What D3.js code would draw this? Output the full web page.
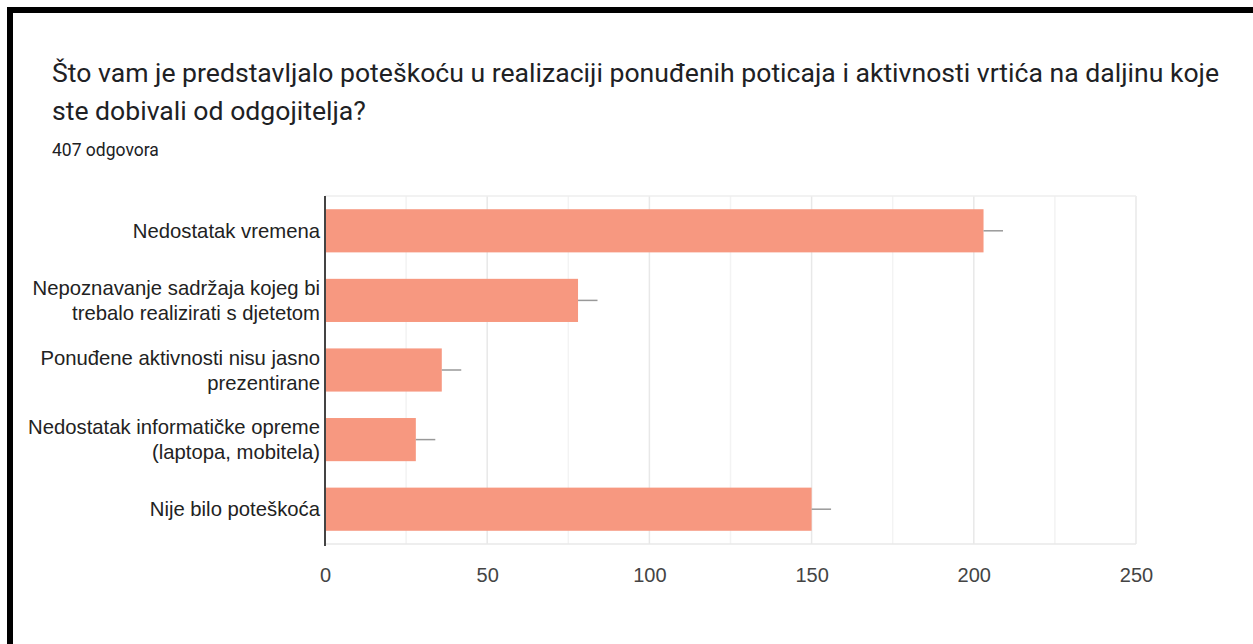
<!DOCTYPE html>
<html>
<head>
<meta charset="utf-8">
<script src="https://cdn.jsdelivr.net/npm/d3@7"></script>
<style>
  html, body { margin: 0; padding: 0; background: #fff; }
  svg { display: block; }
</style>
</head>
<body>
<svg id="chart" width="1253" height="644"></svg>
<script>
const categories = [
  ["Nedostatak vremena"],
  ["Nepoznavanje sadržaja kojeg bi", "trebalo realizirati s djetetom"],
  ["Ponuđene aktivnosti nisu jasno", "prezentirane"],
  ["Nedostatak informatičke opreme", "(laptopa, mobitela)"],
  ["Nije bilo poteškoća"]
];
const values = [203, 78, 36, 28, 150];
const errors = [6, 6, 6, 6, 6];
const tickValues = [0, 50, 100, 150, 200, 250];
const minorTicks = [25, 75, 125, 175, 225];
const titleLines = [
  "Što vam je predstavljalo poteškoću u realizaciji ponuđenih poticaja i aktivnosti vrtića na daljinu koje",
  "ste dobivali od odgojitelja?"
];
const subtitle = "407 odgovora";

const svg = d3.select("#chart");
const labelFont = "'Liberation Sans', Arial, sans-serif";

// frame (top and left black border)
svg.append("rect").attr("x", 7).attr("y", 7).attr("width", 1253).attr("height", 6).attr("fill", "#000");
svg.append("rect").attr("x", 7).attr("y", 7).attr("width", 6).attr("height", 644).attr("fill", "#000");

// title
const title = svg.append("text").attr("font-family", "Roboto, 'Open Sans', sans-serif")
  .attr("font-size", 26.6).attr("fill", "#202124");
titleLines.forEach((t, i) => {
  title.append("tspan").attr("x", 52).attr("y", 82 + i * 38).text(t);
});
svg.append("text").attr("x", 52).attr("y", 156)
  .attr("font-family", "Roboto, 'Open Sans', sans-serif").attr("font-size", 17.5)
  .attr("fill", "#202124").text(subtitle);

// scales
const x0 = 325, x1 = 1136, yTop = 196, yBot = 544;
const x = d3.scaleLinear().domain([0, 250]).range([x0, x1]);
const y = d3.scaleBand().domain(d3.range(values.length)).range([yTop, yBot])
  .paddingInner(0.38).paddingOuter(0.19);

const g = svg.append("g");

// minor grid
g.selectAll("line.minor").data(minorTicks).join("line")
  .attr("x1", d => x(d)).attr("x2", d => x(d)).attr("y1", yTop).attr("y2", yBot)
  .attr("stroke", "#f3f3f3").attr("stroke-width", 1.5);
// major grid
g.selectAll("line.major").data(tickValues.slice(1)).join("line")
  .attr("x1", d => x(d)).attr("x2", d => x(d)).attr("y1", yTop).attr("y2", yBot)
  .attr("stroke", "#e8e8e8").attr("stroke-width", 1.5);
// top & bottom border lines
g.append("line").attr("x1", x0).attr("x2", x1).attr("y1", yTop).attr("y2", yTop)
  .attr("stroke", "#eeeeee").attr("stroke-width", 1.5);
g.append("line").attr("x1", x0).attr("x2", x1).attr("y1", yBot).attr("y2", yBot)
  .attr("stroke", "#e8e8e8").attr("stroke-width", 1.5);

// bars
g.selectAll("rect.bar").data(values).join("rect")
  .attr("x", x(0)).attr("y", (d, i) => y(i))
  .attr("width", d => x(d) - x(0)).attr("height", y.bandwidth())
  .attr("fill", "#f79880");

// error whiskers
g.selectAll("line.err").data(values).join("line")
  .attr("x1", d => x(d)).attr("x2", (d, i) => x(d + errors[i]))
  .attr("y1", (d, i) => y(i) + y.bandwidth() / 2).attr("y2", (d, i) => y(i) + y.bandwidth() / 2)
  .attr("stroke", "#999").attr("stroke-width", 1.5);

// y axis line
g.append("line").attr("x1", x0).attr("x2", x0).attr("y1", yTop).attr("y2", yBot + 2)
  .attr("stroke", "#444").attr("stroke-width", 2);

// x axis tick labels via d3 axis
const xAxis = d3.axisBottom(x).tickValues(tickValues).tickSize(0).tickPadding(24);
const ax = svg.append("g").attr("transform", `translate(0,${yBot})`).call(xAxis);
ax.select(".domain").remove();
ax.selectAll("text").attr("font-family", labelFont)
  .attr("font-size", 20).attr("fill", "#444");

// category labels
const lab = svg.append("g").attr("font-family", labelFont)
  .attr("font-size", 20.3).attr("fill", "#222").attr("text-anchor", "end");
categories.forEach((lines, i) => {
  const cy = y(i) + y.bandwidth() / 2;
  const lh = 25;
  const t = lab.append("text");
  lines.forEach((ln, j) => {
    t.append("tspan").attr("x", 320)
      .attr("y", cy + (j - (lines.length - 1) / 2) * lh + 7).text(ln);
  });
});
</script>
</body>
</html>
